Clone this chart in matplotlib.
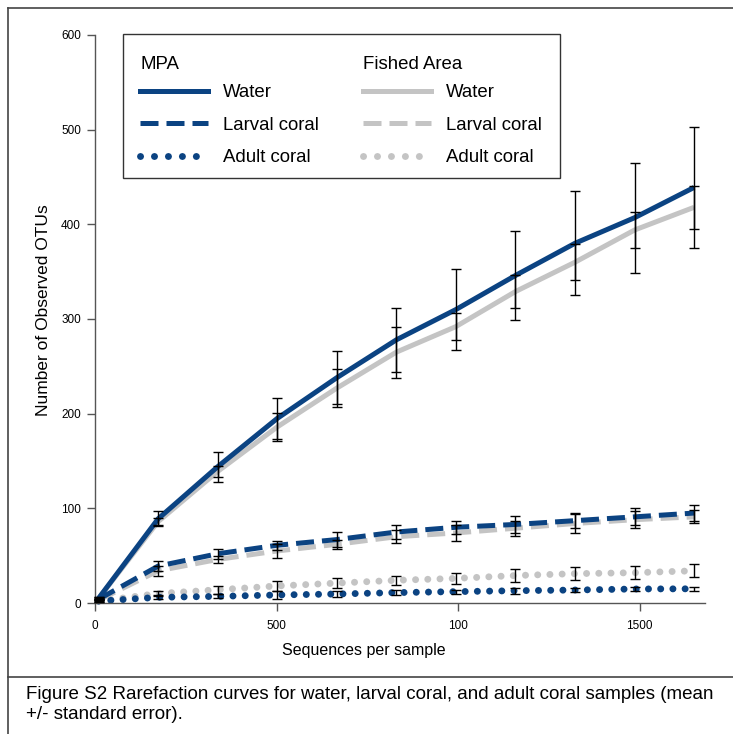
import matplotlib
matplotlib.use('Agg')
import matplotlib.pyplot as plt
from matplotlib.lines import Line2D
from matplotlib.patches import Rectangle

plt.rcParams['font.family'] = ['Liberation Sans', 'DejaVu Sans']

# sequences per sample (rarefaction depths)
depth = [10, 174, 338, 502, 666, 830, 994, 1158, 1322, 1486, 1650]

# MPA
mpa_water = [5, 89, 144, 195, 238, 278, 310, 346, 380, 407, 439]
mpa_water_se = [1, 8, 16, 22, 28, 34, 43, 47, 55, 58, 64]
mpa_larval = [4, 39, 52, 61, 67, 75, 80, 83, 87, 91, 95]
mpa_larval_se = [1, 5, 5, 5, 8, 7, 7, 9, 8, 9, 8]
mpa_adult = [2, 6, 7, 8.5, 9.5, 11, 12, 13, 13.7, 14.8, 15]
mpa_adult_se = [1, 2, 2, 4, 3, 3, 2, 3, 2, 2, 2]

# Fished area
fished_water = [5, 86, 139, 186, 227, 265, 292, 329, 360, 394, 418]
fished_water_se = [1, 4, 6, 15, 20, 27, 14, 17, 19, 19, 23]
fished_larval = [3, 34, 46, 55, 62, 70, 74, 79, 84, 88, 91]
fished_larval_se = [1, 5, 4, 7, 5, 7, 8, 8, 10, 9, 7]
fished_adult = [2, 10, 14, 18, 21, 24, 26, 29, 31, 32, 34]
fished_adult_se = [1, 3, 4, 5, 5, 5, 6, 7, 7, 7, 7]

x_ticks = [0, 500, 1000, 1500]
x_ticklabels = ['0', '500', '100', '1500']
y_ticks = [0, 100, 200, 300, 400, 500, 600]

blue = '#0b4382'
grey = '#c4c4c4'
lw = 3.6
lw_dot = 5.0
dashed = (0, (3.6, 1.6))
dotted = (0, (0.01, 1.75))

W, H = 733, 734
fig = plt.figure(figsize=(W / 100, H / 100), dpi=100)
ax = fig.add_axes([95 / W, 1 - 603 / H, 610 / W, 568 / H])


def curve(y, color, ls):
    if ls == dotted:
        ax.plot(depth, y, color=color, lw=lw_dot, linestyle=ls,
                dash_capstyle='round', clip_on=False)
    else:
        ax.plot(depth, y, color=color, lw=lw, linestyle=ls,
                dash_capstyle='butt', solid_capstyle='butt', clip_on=False)


# grey first, blue on top
curve(fished_water, grey, '-')
curve(fished_larval, grey, dashed)
curve(fished_adult, grey, dotted)
curve(mpa_water, blue, '-')
curve(mpa_larval, blue, dashed)
curve(mpa_adult, blue, dotted)

for y, e in [(fished_water, fished_water_se), (mpa_water, mpa_water_se),
             (fished_larval, fished_larval_se), (mpa_larval, mpa_larval_se),
             (fished_adult, fished_adult_se), (mpa_adult, mpa_adult_se)]:
    ax.errorbar(depth, y, yerr=e, fmt='none', ecolor='black', elinewidth=1.0,
                capsize=3.4, capthick=1.0, zorder=5, clip_on=False)

ax.set_xlim(0, 1680)
ax.set_ylim(0, 600)
ax.set_xticks(x_ticks)
ax.set_xticklabels(x_ticklabels)
ax.set_yticks(y_ticks)
for s in ['top', 'right']:
    ax.spines[s].set_visible(False)
for s in ['left', 'bottom']:
    ax.spines[s].set_color('#555555')
    ax.spines[s].set_linewidth(1.0)
ax.tick_params(direction='out', length=5.8, width=1.0, color='#555555',
               labelsize=8.5)
ax.tick_params(axis='x', pad=6.5)
ax.tick_params(axis='y', pad=4.3)

ax.set_xlabel('Sequences per sample', fontsize=11.5)
ax.xaxis.set_label_coords(0.441, -0.0704)
ax.set_ylabel('Number of Observed OTUs', fontsize=12.5)
ax.yaxis.set_label_coords(-0.072, 0.516)

# legend: two titled columns inside one box
def handles(color):
    return [Line2D([], [], color=color, lw=lw, linestyle='-'),
            Line2D([], [], color=color, lw=lw, linestyle=dashed),
            Line2D([], [], color=color, lw=lw_dot, linestyle=(0, (0.01, 2.0)),
                   dash_capstyle='round')]

labels = ['Water', 'Larval coral', 'Adult coral']
leg_kw = dict(loc='upper left', frameon=False, alignment='left', fontsize=13.4,
              title_fontsize=13.4, borderpad=0, borderaxespad=0,
              handlelength=3.65, handletextpad=0.8, labelspacing=0.83,
              bbox_transform=fig.transFigure)
leg1 = ax.legend(handles(blue), labels, title='MPA',
                 bbox_to_anchor=(140 / W, 1 - 56 / H), **leg_kw)
ax.add_artist(leg1)
leg2 = ax.legend(handles(grey), labels, title='Fished Area',
                 bbox_to_anchor=(363 / W, 1 - 56 / H), **leg_kw)
for lg in (leg1, leg2):
    lg._legend_box.sep = 8

fig.patches.append(Rectangle((123 / W, 1 - 178 / H), 437 / W, 144 / H,
                             transform=fig.transFigure, fill=False,
                             edgecolor='#333333', linewidth=1.0))

# page frame and caption
frame = dict(color='#444444', lw=1.2, transform=fig.transFigure)
fig.lines.append(Line2D([8 / W, 1], [1 - 8 / H, 1 - 8 / H], **frame))
fig.lines.append(Line2D([8 / W, 8 / W], [0, 1 - 8 / H], **frame))
fig.lines.append(Line2D([8 / W, 1], [1 - 677 / H, 1 - 677 / H], **frame))

fig.text(26 / W, 1 - 686 / H,
         'Figure S2 Rarefaction curves for water, larval coral, and adult coral samples (mean\n'
         '+/- standard error).', fontsize=13.5, va='top', ha='left', linespacing=1.2)

fig.savefig('out.png', dpi=100)
